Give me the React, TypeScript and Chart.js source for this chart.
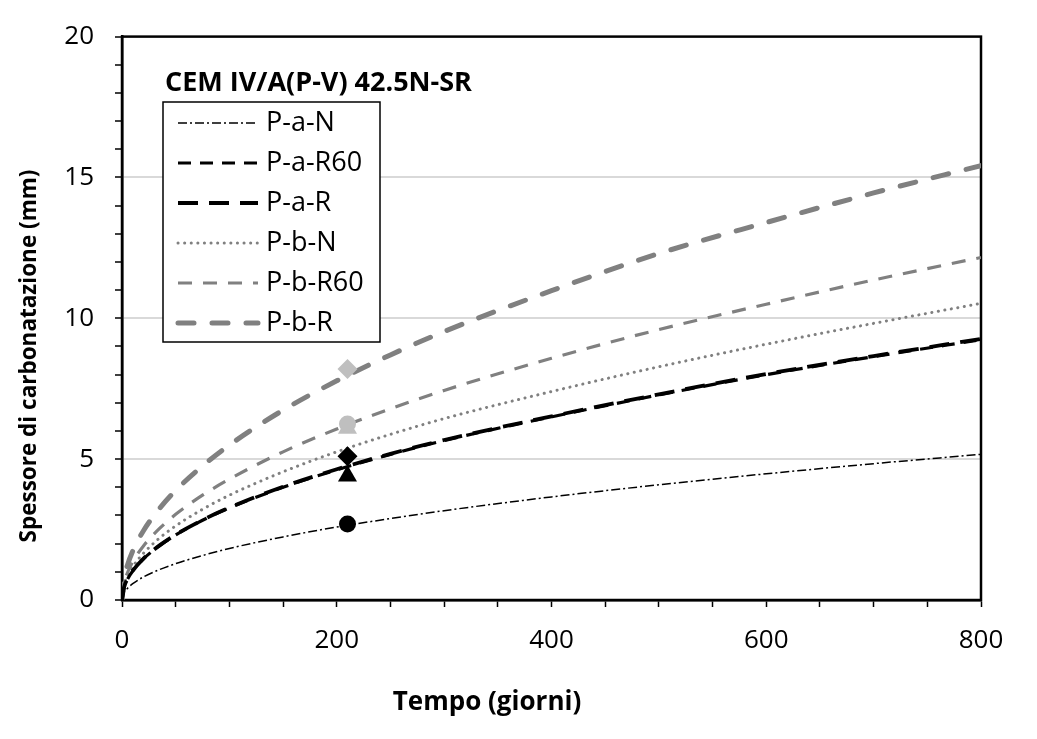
import React, { useEffect, useRef } from "react";
import { Chart, registerables } from "chart.js";

Chart.register(...registerables);

// ---- data ----
const days = [0, 2, 5, 10, 20, 35, 50, 75, 100, 150, 200, 250, 300, 400, 500, 600, 700, 800];
const paN = [0, 0.26, 0.41, 0.58, 0.82, 1.08, 1.29, 1.58, 1.83, 2.24, 2.59, 2.89, 3.17, 3.66, 4.09, 4.48, 4.84, 5.17];
const paR60 = [0, 0.46, 0.73, 1.03, 1.46, 1.93, 2.31, 2.83, 3.27, 4.0, 4.62, 5.17, 5.66, 6.5, 7.28, 8.0, 8.64, 9.24];
const paR = [0, 0.46, 0.74, 1.04, 1.47, 1.94, 2.32, 2.84, 3.28, 4.02, 4.64, 5.19, 5.68, 6.52, 7.3, 8.02, 8.66, 9.27];
const pbN = [0, 0.53, 0.83, 1.18, 1.66, 2.2, 2.63, 3.22, 3.72, 4.55, 5.26, 5.88, 6.44, 7.4, 8.28, 9.08, 9.82, 10.53];
const pbR60 = [0, 0.61, 0.96, 1.36, 1.92, 2.54, 3.04, 3.72, 4.29, 5.26, 6.07, 6.79, 7.44, 8.58, 9.6, 10.5, 11.36, 12.16];
const pbR = [0, 0.78, 1.23, 1.74, 2.46, 3.25, 3.89, 4.76, 5.5, 6.74, 7.78, 8.7, 9.53, 10.98, 12.3, 13.4, 14.45, 15.42];

const seriesLabels = ["P-a-N", "P-a-R60", "P-a-R", "P-b-N", "P-b-R60", "P-b-R"];

// measured points at 210 days
const measuredDay = 210;
const measuredA = [2.7, 4.4, 5.1]; // circle, triangle, diamond
const measuredB = [6.25, 6.1, 8.2];

const chartTitle = "CEM IV/A(P-V) 42.5N-SR";
const xTitle = "Tempo (giorni)";
const yTitle = "Spessore di carbonatazione (mm)";

const FONT = "'Open Sans', 'DejaVu Sans', sans-serif";
const GRAY = "#808080";
const LIGHT = "#bfbfbf";

type Style = { color: string; width: number; dash: number[]; cap: CanvasLineCap };
const styles: Style[] = [
  { color: "#000", width: 1.5, dash: [9, 3, 2, 3], cap: "butt" },
  { color: "#000", width: 3.2, dash: [13, 9], cap: "butt" },
  { color: "#000", width: 3.8, dash: [20, 11], cap: "butt" },
  { color: GRAY, width: 3, dash: [0.1, 6.5], cap: "round" },
  { color: GRAY, width: 3.2, dash: [14, 11], cap: "butt" },
  { color: GRAY, width: 5, dash: [16, 18], cap: "round" },
];

const seriesValues = [paN, paR60, paR, pbN, pbR60, pbR];

const decor = {
  id: "decor",
  beforeDatasetsDraw(chart: any) {
    const { ctx, chartArea } = chart;
    ctx.save();
    ctx.strokeStyle = "#000";
    ctx.lineWidth = 2.5;
    ctx.strokeRect(chartArea.left, chartArea.top, chartArea.right - chartArea.left, chartArea.bottom - chartArea.top);
    ctx.restore();
  },
  afterDraw(chart: any) {
    const { ctx } = chart;
    ctx.save();
    ctx.fillStyle = "#000";
    // axis titles
    ctx.font = `bold 26px ${FONT}`;
    ctx.textAlign = "center";
    ctx.textBaseline = "middle";
    ctx.fillText(xTitle, 487, 703);
    ctx.save();
    ctx.translate(30, 356);
    ctx.rotate(-Math.PI / 2);
    ctx.font = `bold 22.5px ${FONT}`;
    ctx.fillText(yTitle, 0, 0);
    ctx.restore();
    // chart title
    ctx.font = `bold 27px ${FONT}`;
    ctx.textAlign = "left";
    ctx.fillText(chartTitle, 165, 83);
    // legend box
    const bx = 163, by = 102, bw = 217, bh = 240;
    ctx.fillStyle = "#fff";
    ctx.fillRect(bx, by, bw, bh);
    ctx.strokeStyle = "#000";
    ctx.lineWidth = 1.5;
    ctx.strokeRect(bx, by, bw, bh);
    ctx.font = `27px ${FONT}`;
    seriesLabels.forEach((lab, i) => {
      const y = 123 + i * 40;
      const s = styles[i];
      ctx.save();
      ctx.strokeStyle = s.color;
      ctx.lineWidth = s.width;
      ctx.setLineDash(s.dash);
      ctx.lineCap = s.cap;
      ctx.beginPath();
      ctx.moveTo(178, y);
      ctx.lineTo(258, y);
      ctx.stroke();
      ctx.restore();
      ctx.fillStyle = "#000";
      ctx.fillText(lab, 266, y);
    });
    ctx.restore();
  },
};

export default function App() {
  const ref = useRef<HTMLCanvasElement | null>(null);
  useEffect(() => {
    if (!ref.current) return;
    const lineSets = seriesValues.map((vals, i) => ({
      type: "line" as const,
      label: seriesLabels[i],
      data: days.map((d, j) => ({ x: d, y: vals[j] })),
      borderColor: styles[i].color,
      borderWidth: styles[i].width,
      borderDash: styles[i].dash,
      borderCapStyle: styles[i].cap,
      pointRadius: 0,
      cubicInterpolationMode: "monotone" as const,
      fill: false,
      order: 2,
    }));
    const shapes = ["circle", "triangle", "rectRot"];
    const radii = [8.5, 11, 10];
    const markerSets: any[] = [];
    [measuredB, measuredA].forEach((arr, g) => {
      arr.forEach((v, k) => {
        markerSets.push({
          type: "line",
          label: "m" + g + k,
          data: [{ x: measuredDay, y: v }],
          showLine: false,
          pointStyle: shapes[k],
          pointRadius: radii[k],
          pointBackgroundColor: g === 0 ? LIGHT : "#000",
          pointBorderColor: g === 0 ? LIGHT : "#000",
          pointBorderWidth: 0,
          order: 1,
        });
      });
    });
    const chart = new Chart(ref.current, {
      type: "line",
      data: { datasets: [...lineSets, ...markerSets] as any },
      options: {
        animation: false,
        responsive: true,
        maintainAspectRatio: false,
        layout: { padding: { top: 35, right: 56, left: 0, bottom: 0 } },
        plugins: { legend: { display: false }, tooltip: { enabled: false } },
        scales: {
          x: {
            type: "linear",
            min: 0,
            max: 800,
            afterFit: (s: any) => {
              s.height = 139;
            },
            ticks: {
              stepSize: 50,
              autoSkip: false,
              maxRotation: 0,
              padding: 18,
              color: "#000",
              font: { family: FONT, size: 26 },
              callback: (v: any) => (Number(v) % 200 === 0 ? String(v) : ""),
            },
            grid: { drawOnChartArea: false, tickLength: 7, tickColor: "#000", tickWidth: 1.5 },
            border: { color: "#000", width: 2.5 },
          },
          y: {
            min: 0,
            max: 20,
            afterFit: (s: any) => {
              s.width = 122;
            },
            ticks: {
              stepSize: 1,
              autoSkip: false,
              padding: 21,
              color: "#000",
              font: { family: FONT, size: 26 },
              callback: (v: any) => (Number(v) % 5 === 0 ? String(v) : ""),
            },
            grid: {
              color: (c: any) => {
                const v = c.tick ? c.tick.value : 0;
                return v % 5 === 0 && v !== 0 && v !== 20 ? "#d9d9d9" : "rgba(0,0,0,0)";
              },
              lineWidth: 2,
              tickLength: 7,
              tickColor: "#000",
              tickWidth: 1.5,
            },
            border: { color: "#000", width: 2.5 },
          },
        },
      },
      plugins: [decor],
    });
    return () => chart.destroy();
  }, []);
  return (
    <div style={{ position: "fixed", left: 0, top: 0, width: 1037, height: 739, background: "#fff" }}>
      <canvas ref={ref} />
    </div>
  );
}
